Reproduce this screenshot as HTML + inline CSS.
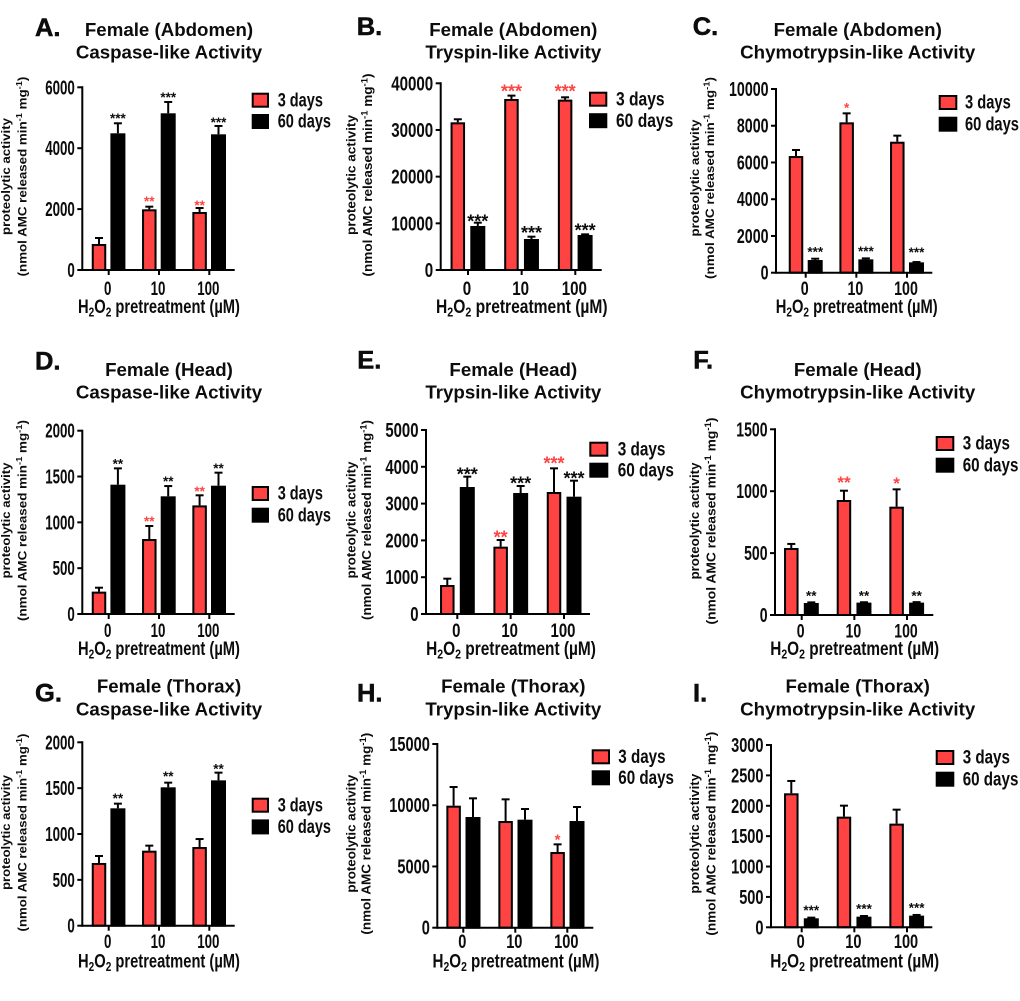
<!DOCTYPE html>
<html lang="en">
<head>
<meta charset="utf-8">
<title>Proteolytic activity panels</title>
<style>
  html, body { margin: 0; padding: 0; background: #fff; }
  svg { display: block; filter: blur(0.35px); }
  text { font-family: "Liberation Sans", Arial, sans-serif; font-weight: 700; fill: #0c0c0c; }
</style>
</head>
<body>
<svg id="figure" xmlns="http://www.w3.org/2000/svg" width="1020" height="1001" viewBox="0 0 1020 1001"></svg>
<script>
const doses = ['0', '10', '100'];
const seriesNames = ['3 days', '60 days'];

const yTicksA = [0, 2000, 4000, 6000];
const days3A = [854, 1993, 1905];
const days3ErrTopA = [1051, 2080, 2036];
const days60A = [4489, 5146, 4456];
const days60ErrTopA = [4818, 5518, 4730];
const stars3A = ['', '**', '**'];
const stars60A = ['***', '***', '***'];

const yTicksB = [0, 10000, 20000, 30000, 40000];
const days3B = [31640, 36640, 36500];
const days3ErrTopB = [32290, 37360, 37000];
const days60B = [9430, 6640, 7500];
const days60ErrTopB = [10140, 7140, 7640];
const stars3B = ['', '***', '***'];
const stars60B = ['***', '***', '***'];

const yTicksC = [0, 2000, 4000, 6000, 8000, 10000];
const days3C = [6350, 8185, 7130];
const days3ErrTopC = [6679, 8675, 7460];
const days60C = [690, 726, 563];
const days60ErrTopC = [762, 780, 580];
const stars3C = ['', '*', ''];
const stars60C = ['***', '***', '***'];

const yTicksD = [0, 500, 1000, 1500, 2000];
const days3D = [244, 818, 1185];
const days3ErrTopD = [287, 960, 1295];
const days60D = [1411, 1284, 1400];
const days60ErrTopD = [1589, 1396, 1542];
const stars3D = ['', '**', '**'];
const stars60D = ['**', '**', '**'];

const yTicksE = [0, 1000, 2000, 3000, 4000, 5000];
const days3E = [788, 1830, 3315];
const days3ErrTopE = [960, 2011, 3958];
const days60E = [3451, 3288, 3188];
const days60ErrTopE = [3732, 3478, 3623];
const stars3E = ['', '**', '***'];
const stars60E = ['***', '***', '***'];

const yTicksF = [0, 500, 1000, 1500];
const days3F = [541, 929, 875];
const days3ErrTopF = [574, 1004, 1015];
const days60F = [97, 100, 100];
const days60ErrTopF = [102, 103, 104];
const stars3F = ['', '**', '*'];
const stars60F = ['**', '**', '**'];

const yTicksG = [0, 500, 1000, 1500, 2000];
const days3G = [684, 818, 858];
const days3ErrTopG = [760, 873, 945];
const days60G = [1280, 1509, 1585];
const days60ErrTopG = [1331, 1560, 1669];
const stars3G = ['', '', ''];
const stars60G = ['**', '**', '**'];

const yTicksH = [0, 5000, 10000, 15000];
const days3H = [9964, 8711, 6180];
const days3ErrTopH = [11488, 10481, 6806];
const days60H = [9038, 8820, 8711];
const days60ErrTopH = [10563, 9691, 9855];
const stars3H = ['', '', '*'];
const stars60H = ['', '', ''];

const yTicksI = [0, 500, 1000, 1500, 2000, 2500, 3000];
const days3I = [2205, 1821, 1706];
const days3ErrTopI = [2408, 2002, 1936];
const days60I = [148, 175, 192];
const days60ErrTopI = [159, 186, 203];
const stars3I = ['', '', ''];
const stars60I = ['***', '***', '***'];

const titlesA = ['Female (Abdomen)', 'Caspase-like Activity'];
const titlesB = ['Female (Abdomen)', 'Tryspin-like Activity'];
const titlesC = ['Female (Abdomen)', 'Chymotrypsin-like Activity'];
const titlesD = ['Female (Head)', 'Caspase-like Activity'];
const titlesE = ['Female (Head)', 'Trypsin-like Activity'];
const titlesF = ['Female (Head)', 'Chymotrypsin-like Activity'];
const titlesG = ['Female (Thorax)', 'Caspase-like Activity'];
const titlesH = ['Female (Thorax)', 'Trypsin-like Activity'];
const titlesI = ['Female (Thorax)', 'Chymotrypsin-like Activity'];

const RED = '#ff4242';
const NS = 'http://www.w3.org/2000/svg';
const root = document.getElementById('figure');

function make(parent, tag, name, attrs) {
  const el = document.createElementNS(NS, tag);
  
  
  for (const k in attrs) el.setAttribute(k, attrs[k]);
  parent.appendChild(el);
  return el;
}

function label(parent, name, str, x, y, size, anchor, sx, fill) {
  const t = make(parent, 'text', name, {
    'font-size': size,
    'text-anchor': anchor,
    transform: 'translate(' + x + ' ' + y + ') scale(' + sx + ' 1)'
  });
  if (fill) t.setAttribute('style', 'fill:' + fill);
  t.textContent = str;
  return t;
}

function fitWidth(t, x, y, target, rot) {
  const w = t.getComputedTextLength();
  const sx = target / w;
  t.setAttribute('transform', 'translate(' + x + ' ' + y + ')' + (rot ? ' rotate(-90)' : '') + ' scale(' + sx + ' 1)');
}

function tspan(parent, str, attrs) {
  const s = document.createElementNS(NS, 'tspan');
  for (const k in attrs) s.setAttribute(k, attrs[k]);
  s.textContent = str;
  parent.appendChild(s);
}

function drawPanel(p) {
  const g = make(root, 'g', 'panel-' + p.id.toLowerCase(), {});
  const yMax = p.yTicks[p.yTicks.length - 1];
  const y = v => p.bot - (v / yMax) * (p.bot - p.top);
  const x = i => p.x0 + i * p.dx;
  const ySize = 20;
  const xSize = 19;

  const letter = label(g, 'panel-letter-' + p.id.toLowerCase(), p.id + '.', p.letterX, p.letterY, 25, 'start', 1.02);
  letter.setAttribute('stroke', '#0c0c0c');
  letter.setAttribute('stroke-width', '0.5');
  label(g, 'panel-title-line-1', p.titles[0], p.titleX, p.titleY, 18.7, 'middle', 1);
  label(g, 'panel-title-line-2', p.titles[1], p.titleX, p.titleY + 22.7, 18.7, 'middle', 1);

  const yl1 = make(g, 'text', 'y-axis-title-line-1', { 'font-size': p.ylSize + 1.6, 'text-anchor': 'middle' });
  yl1.textContent = 'proteolytic activity';
  fitWidth(yl1, p.yl1x + 0.5, p.ylCy, p.yl1w, true);
  const yl2 = make(g, 'text', 'y-axis-title-line-2', { 'font-size': p.ylSize + 1.6, 'text-anchor': 'middle' });
  tspan(yl2, '(nmol AMC released min', {});
  tspan(yl2, '-1', { dy: -4.5, 'font-size': (p.ylSize + 1.6) * 0.7 });
  tspan(yl2, ' mg', { dy: 4.5 });
  tspan(yl2, '-1', { dy: -4.5, 'font-size': (p.ylSize + 1.6) * 0.7 });
  tspan(yl2, ')', { dy: 4.5 });
  fitWidth(yl2, p.yl2x + 0.5, p.ylCy, p.yl2w, true);

  const barsG = make(g, 'g', 'bars', {});
  const drawBar = (i, off, v, top, fill, series, outer) => {
    const cx = x(i) + off;
    const b = make(barsG, 'rect', 'bar-' + series + '-dose-' + doses[i], {
      x: cx - outer / 2 + 1, y: y(v) + 1, width: outer - 2, height: Math.max(0, p.bot - y(v) - 1),
      fill: fill, stroke: '#000', 'stroke-width': 2
    });
    make(barsG, 'line', 'error-stem-' + series + '-dose-' + doses[i], { x1: cx, x2: cx, y1: y(v), y2: y(top), stroke: '#000', 'stroke-width': 2 });
    make(barsG, 'line', 'error-cap-' + series + '-dose-' + doses[i], { x1: cx - 4, x2: cx + 4, y1: y(top), y2: y(top), stroke: '#000', 'stroke-width': 2 });
    return b;
  };
  doses.forEach((d, i) => {
    drawBar(i, p.off3, p.days3[i], p.err3[i], RED, '3-days', 14.5);
    drawBar(i, p.off60, p.days60[i], p.err60[i], '#000', '60-days', 15);
    if (p.stars3[i]) {
      const s = p.star3Size;
      label(g, 'significance-3-days-dose-' + d, p.stars3[i], x(i) + p.off3, y(p.err3[i]) - p.gap3[i] + 0.56 * s, s, 'middle', 1, RED);
    }
    if (p.stars60[i]) {
      const s = p.star60Size;
      label(g, 'significance-60-days-dose-' + d, p.stars60[i], x(i) + p.off60, y(p.err60[i]) - p.gap60[i] + 0.56 * s, s, 'middle', 1);
    }
  });

  const axisG = make(g, 'g', 'axes', {});
  make(axisG, 'line', 'y-axis-line', { x1: p.ax, x2: p.ax, y1: p.top - 1, y2: p.bot + 1, stroke: '#000', 'stroke-width': 2 });
  make(axisG, 'line', 'x-axis-line', { x1: p.ax, x2: p.right, y1: p.bot, y2: p.bot, stroke: '#000', 'stroke-width': 2 });
  p.yTicks.forEach(v => {
    make(axisG, 'line', 'y-tick-' + v, { x1: p.ax - 5, x2: p.ax, y1: y(v), y2: y(v), stroke: '#000', 'stroke-width': 2 });
    label(axisG, 'y-tick-label-' + v, String(v), p.ax - 7.5, y(v) + 7, ySize, 'end', p.digit / (0.556 * ySize));
  });
  doses.forEach((d, i) => {
    make(axisG, 'line', 'x-tick-' + d, { x1: x(i), x2: x(i), y1: p.bot, y2: p.bot + 5, stroke: '#000', 'stroke-width': 2 });
    label(axisG, 'x-tick-label-' + d, d, x(i) - 1, p.tickY, xSize, 'middle', p.digit / (0.556 * xSize));
  });

  const xt = make(g, 'text', 'x-axis-title', { 'font-size': 19, 'text-anchor': 'middle' });
  tspan(xt, 'H', {});
  tspan(xt, '2', { dy: 3.5, 'font-size': 13 });
  tspan(xt, 'O', { dy: -3.5 });
  tspan(xt, '2', { dy: 3.5, 'font-size': 13 });
  tspan(xt, ' pretreatment (\u00b5M)', { dy: -3.5 });
  fitWidth(xt, p.xtX, p.xtY, p.xtW, false);

  const lg = make(g, 'g', 'legend', {});
  const legSize = 19;
  const lsx = p.legW / (3.669 * legSize);
  seriesNames.forEach((n, i) => {
    const e = make(lg, 'g', 'legend-entry-' + n.replace(' ', '-'), {});
    const sy = p.legY + i * p.legStep;
    make(e, 'rect', 'legend-swatch', {
      x: p.legX + 1, y: sy + 1, width: p.legSw - 2, height: 13,
      fill: i === 0 ? RED : '#000', stroke: '#000', 'stroke-width': 2
    });
    label(e, 'legend-label', n, p.legTx, sy + 13.6, legSize, 'start', lsx);
  });
}

const panels = [
  { id:'A', titles:titlesA, yTicks:yTicksA, days3:days3A, err3:days3ErrTopA, days60:days60A, err60:days60ErrTopA, stars3:stars3A, stars60:stars60A,
    ax:82.3, top:87.3, bot:270, right:234.7, x0:108.7, dx:50.3, off3:-9.7, off60:9.2, digit:7.4, tickY:295,
    letterX:35, letterY:36, titleX:169, titleY:36, yl1x:9.5, yl2x:26, ylCy:176.5, yl1w:117, yl2w:200, ylSize:10.5,
    xtX:159, xtY:313, xtW:162, legX:251.7, legSw:17.3, legY:92.7, legStep:21.3, legTx:277.7, legW:53.3,
    star3Size:13.5, star60Size:13.5, gap3:[0,8.3,5.7], gap60:[7.7,7.3,6.7] },
  { id:'B', titles:titlesB, yTicks:yTicksB, days3:days3B, err3:days3ErrTopB, days60:days60B, err60:days60ErrTopB, stars3:stars3B, stars60:stars60B,
    ax:440.7, top:83.3, bot:270, right:601.7, x0:468, dx:53.65, off3:-10.2, off60:9.8, digit:8.4, tickY:295,
    letterX:356.7, letterY:35, titleX:513.3, titleY:36, yl1x:355, yl2x:371.7, ylCy:175, yl1w:120, yl2w:203, ylSize:11,
    xtX:521.8, xtY:313, xtW:171.7, legX:589, legSw:18.3, legY:91.7, legStep:21.5, legTx:616, legW:57.3,
    star3Size:18, star60Size:18, gap3:[0,8,9.7], gap60:[5.3,8,7.7] },
  { id:'C', titles:titlesC, yTicks:yTicksC, days3:days3C, err3:days3ErrTopC, days60:days60C, err60:days60ErrTopC, stars3:stars3C, stars60:stars60C,
    ax:776, top:89, bot:272.7, right:932.3, x0:805.7, dx:50.65, off3:-9.7, off60:9.5, digit:7.9, tickY:295,
    letterX:692.7, letterY:35, titleX:857.7, titleY:36, yl1x:698.3, yl2x:713.3, ylCy:178, yl1w:117, yl2w:202, ylSize:10.5,
    xtX:856.7, xtY:313, xtW:162, legX:938.7, legSw:18.6, legY:95, legStep:21.7, legTx:965, legW:54,
    star3Size:13.5, star60Size:13.5, gap3:[0,8.3,0], gap60:[10,10,12.7] },
  { id:'D', titles:titlesD, yTicks:yTicksD, days3:days3D, err3:days3ErrTopD, days60:days60D, err60:days60ErrTopD, stars3:stars3D, stars60:stars60D,
    ax:82.3, top:430.7, bot:614, right:234.7, x0:108.7, dx:50.3, off3:-9.7, off60:9.2, digit:7.4, tickY:637,
    letterX:35, letterY:369.3, titleX:169, titleY:376, yl1x:9.5, yl2x:26, ylCy:520.5, yl1w:116, yl2w:201, ylSize:10.5,
    xtX:159, xtY:655, xtW:162, legX:251.7, legSw:17.3, legY:486, legStep:21.7, legTx:277.7, legW:53.3,
    star3Size:13.5, star60Size:13.5, gap3:[0,7.7,7], gap60:[7.3,7.7,7.3] },
  { id:'E', titles:titlesE, yTicks:yTicksE, days3:days3E, err3:days3ErrTopE, days60:days60E, err60:days60ErrTopE, stars3:stars3E, stars60:stars60E,
    ax:426, top:430, bot:614, right:590, x0:457.3, dx:53.35, off3:-10, off60:10, digit:8.3, tickY:637,
    letterX:357.3, letterY:368.3, titleX:513.3, titleY:376, yl1x:355, yl2x:370.7, ylCy:520, yl1w:117, yl2w:200, ylSize:11,
    xtX:511, xtY:655, xtW:170, legX:589.3, legSw:19, legY:441.7, legStep:21, legTx:617.7, legW:56.3,
    star3Size:18, star60Size:18, gap3:[0,6.7,9], gap60:[6,6.7,6.3] },
  { id:'F', titles:titlesF, yTicks:yTicksF, days3:days3F, err3:days3ErrTopF, days60:days60F, err60:days60ErrTopF, stars3:stars3F, stars60:stars60F,
    ax:775, top:429.3, bot:615, right:933.3, x0:801.7, dx:52.65, off3:-10.4, off60:9.6, digit:7.8, tickY:637.7,
    letterX:693.3, letterY:368.3, titleX:857.7, titleY:376, yl1x:698.3, yl2x:715, ylCy:521, yl1w:117, yl2w:207, ylSize:11,
    xtX:854.7, xtY:655, xtW:169, legX:935.7, legSw:18.6, legY:436, legStep:21.7, legTx:962.7, legW:55.7,
    star3Size:17, star60Size:13.5, gap3:[0,12.3,10], gap60:[9.3,9.3,9.3] },
  { id:'G', titles:titlesG, yTicks:yTicksG, days3:days3G, err3:days3ErrTopG, days60:days60G, err60:days60ErrTopG, stars3:stars3G, stars60:stars60G,
    ax:82.3, top:742.3, bot:925.7, right:234.7, x0:108.7, dx:50.3, off3:-9.7, off60:9.2, digit:7.4, tickY:948,
    letterX:35, letterY:701.7, titleX:169, titleY:692.7, yl1x:9.5, yl2x:26, ylCy:832.5, yl1w:115, yl2w:198, ylSize:10.5,
    xtX:159, xtY:967.7, xtW:162, legX:251.7, legSw:17.3, legY:797.7, legStep:21.7, legTx:277.7, legW:53.3,
    star3Size:13.5, star60Size:13.5, gap3:[0,0,0], gap60:[8,9,6.7] },
  { id:'H', titles:titlesH, yTicks:yTicksH, days3:days3H, err3:days3ErrTopH, days60:days60H, err60:days60ErrTopH, stars3:stars3H, stars60:stars60H,
    ax:437.3, top:744, bot:927.7, right:593.3, x0:463.3, dx:52, off3:-9.7, off60:9.7, digit:8.1, tickY:948,
    letterX:357, letterY:701.7, titleX:513.3, titleY:692.7, yl1x:355, yl2x:370, ylCy:833.7, yl1w:118, yl2w:202, ylSize:11,
    xtX:516, xtY:967.7, xtW:167, legX:591.7, legSw:18.3, legY:749.3, legStep:21, legTx:618.3, legW:55.7,
    star3Size:15, star60Size:13.5, gap3:[0,0,8.3], gap60:[0,0,0] },
  { id:'I', titles:titlesI, yTicks:yTicksI, days3:days3I, err3:days3ErrTopI, days60:days60I, err60:days60ErrTopI, stars3:stars3I, stars60:stars60I,
    ax:771, top:745, bot:927.3, right:932.3, x0:801.7, dx:52.65, off3:-10.4, off60:9.6, digit:8.1, tickY:948,
    letterX:693, letterY:701.7, titleX:857.7, titleY:692.7, yl1x:698.3, yl2x:715, ylCy:833.7, yl1w:120, yl2w:204, ylSize:11,
    xtX:854.7, xtY:967.7, xtW:169, legX:935.7, legSw:18.6, legY:750, legStep:21.7, legTx:962.7, legW:55.7,
    star3Size:13.5, star60Size:13.5, gap3:[0,0,0], gap60:[10.3,10,10] }
];

panels.forEach(drawPanel);
</script>
</body>
</html>
